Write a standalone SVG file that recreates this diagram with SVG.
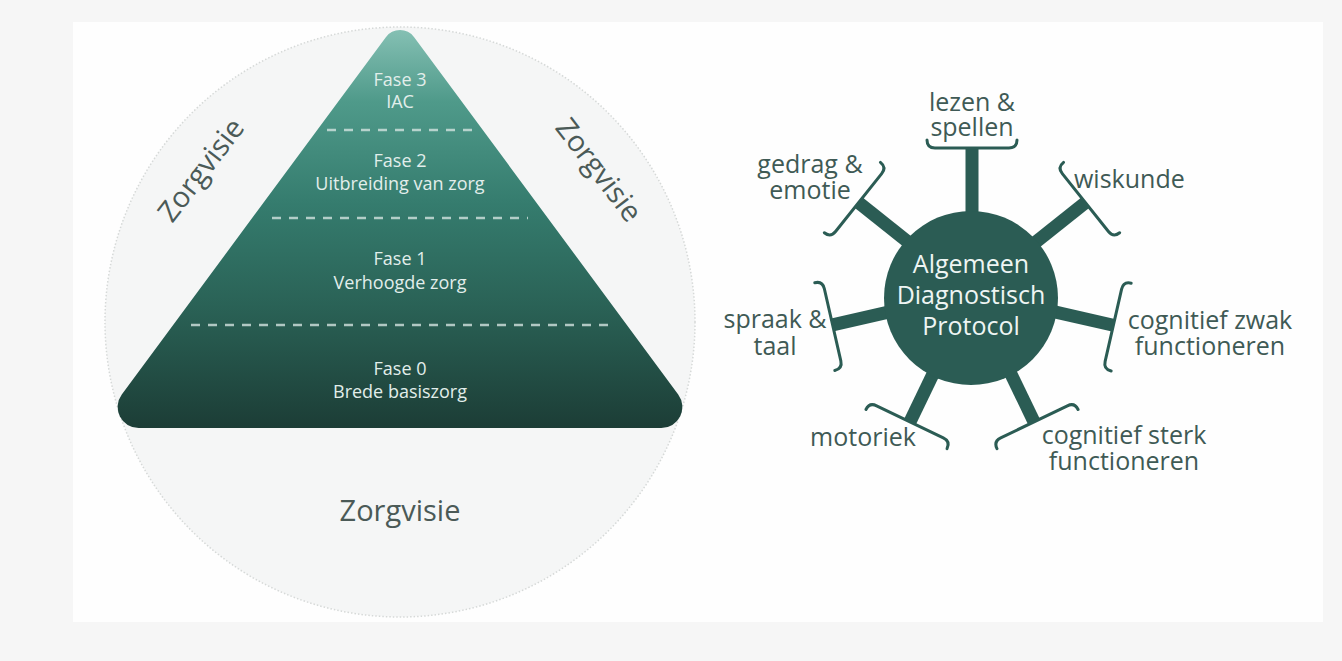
<svg xmlns="http://www.w3.org/2000/svg" width="1342" height="661" viewBox="0 0 1342 661">
  <defs>
    <linearGradient id="pyr" x1="0" y1="20" x2="0" y2="428" gradientUnits="userSpaceOnUse">
      <stop offset="0" stop-color="#8cc5b9"/>
      <stop offset="0.2" stop-color="#4f9a8a"/>
      <stop offset="0.45" stop-color="#357c6e"/>
      <stop offset="0.7" stop-color="#2a6256"/>
      <stop offset="1" stop-color="#1c3d36"/>
    </linearGradient>
  </defs>
  <style>
    .pt { font-family: "Open Sans", "Liberation Sans", sans-serif; font-size: 18px; fill: #e2eeeb; text-anchor: middle; }
    .zv { font-family: "Open Sans", "Liberation Sans", sans-serif; font-size: 29px; fill: #4b5a57; text-anchor: middle; }
    .lbl { font-family: "Open Sans", "Liberation Sans", sans-serif; font-size: 25px; fill: #3f5a55; }
    .ct { font-family: "Open Sans", "Liberation Sans", sans-serif; font-size: 25px; fill: #eef5f3; text-anchor: middle; }
    .dash { stroke: #d3e4e0; stroke-opacity: 0.8; stroke-width: 2.5; stroke-dasharray: 9 8; fill: none; }
    .spoke { stroke: #2b5c54; stroke-width: 13; fill: none; }
    .brk { stroke: #2b5c54; stroke-width: 3; fill: none; stroke-linecap: round; }
  </style>

  <rect x="0" y="0" width="1342" height="661" fill="#f6f6f6"/>
  <rect x="73" y="22" width="1250" height="600" fill="#fefefe"/>

  <g id="vision-circle">
    <circle cx="400" cy="322" r="295" fill="#f5f6f6" stroke="#d6d9d8" stroke-width="1.5" stroke-dasharray="1.5 2"/>
    <text class="zv" x="400" y="521">Zorgvisie</text>
    <text class="zv" transform="translate(201,170) rotate(-52.6)" y="10">Zorgvisie</text>
    <text class="zv" transform="translate(599,170) rotate(52.6)" y="10">Zorgvisie</text>
  </g>

  <g id="pyramid">
    <path d="M 385.84,37.13 A 17.6 17.6 0 0 1 414.16,37.13 L 678.22,394.51 A 21 21 0 0 1 661.34,428 L 138.66,428 A 21 21 0 0 1 121.78,394.51 Z" fill="url(#pyr)"/>
    <line class="dash" x1="327" y1="130" x2="473" y2="130"/>
    <line class="dash" x1="272" y1="218" x2="528" y2="218"/>
    <line class="dash" x1="191" y1="325" x2="609" y2="325"/>
  </g>
  <g id="fase3">
    <text class="pt" x="400" y="86">Fase 3</text>
    <text class="pt" x="400" y="108">IAC</text>
  </g>
  <g id="fase2">
    <text class="pt" x="400" y="167">Fase 2</text>
    <text class="pt" x="400" y="190">Uitbreiding van zorg</text>
  </g>
  <g id="fase1">
    <text class="pt" x="400" y="265">Fase 1</text>
    <text class="pt" x="400" y="289">Verhoogde zorg</text>
  </g>
  <g id="fase0">
    <text class="pt" x="400" y="375">Fase 0</text>
    <text class="pt" x="400" y="398">Brede basiszorg</text>
  </g>

  <g id="connectors">
    <g transform="translate(972,293) rotate(-90)">
      <line class="spoke" x1="60" y1="0" x2="145" y2="0"/>
      <path class="brk" d="M 153,-45 Q 145,-45 145,-37 L 145,37 Q 145,45 153,45"/>
    </g>
    <g transform="translate(972,293) rotate(-38.571)">
      <line class="spoke" x1="60" y1="0" x2="145" y2="0"/>
      <path class="brk" d="M 153,-45 Q 145,-45 145,-37 L 145,37 Q 145,45 153,45"/>
    </g>
    <g transform="translate(972,293) rotate(12.857)">
      <line class="spoke" x1="60" y1="0" x2="145" y2="0"/>
      <path class="brk" d="M 153,-45 Q 145,-45 145,-37 L 145,37 Q 145,45 153,45"/>
    </g>
    <g transform="translate(972,293) rotate(64.286)">
      <line class="spoke" x1="60" y1="0" x2="143" y2="0"/>
      <path class="brk" d="M 151,-45 Q 143,-45 143,-37 L 143,37 Q 143,45 151,45"/>
    </g>
    <g transform="translate(972,293) rotate(115.714)">
      <line class="spoke" x1="60" y1="0" x2="143" y2="0"/>
      <path class="brk" d="M 151,-45 Q 143,-45 143,-37 L 143,37 Q 143,45 151,45"/>
    </g>
    <g transform="translate(972,293) rotate(167.143)">
      <line class="spoke" x1="60" y1="0" x2="143" y2="0"/>
      <path class="brk" d="M 151,-45 Q 143,-45 143,-37 L 143,37 Q 143,45 151,45"/>
    </g>
    <g transform="translate(972,293) rotate(218.571)">
      <line class="spoke" x1="60" y1="0" x2="145" y2="0"/>
      <path class="brk" d="M 153,-45 Q 145,-45 145,-37 L 145,37 Q 145,45 153,45"/>
    </g>
  </g>

  <g id="adp">
    <circle cx="971" cy="298" r="87" fill="#2b5c54"/>
    <text class="ct" x="971" y="273">Algemeen</text>
    <text class="ct" x="971" y="304">Diagnostisch</text>
    <text class="ct" x="971" y="335">Protocol</text>
  </g>

  <g id="lezen">
    <text class="lbl" x="972" y="111" text-anchor="middle">lezen &amp;</text>
    <text class="lbl" x="972" y="136" text-anchor="middle">spellen</text>
  </g>
  <g id="wiskunde">
    <text class="lbl" x="1074" y="188">wiskunde</text>
  </g>
  <g id="cognitief-zwak">
    <text class="lbl" x="1210" y="329" text-anchor="middle">cognitief zwak</text>
    <text class="lbl" x="1210" y="355" text-anchor="middle">functioneren</text>
  </g>
  <g id="cognitief-sterk">
    <text class="lbl" x="1124" y="444" text-anchor="middle">cognitief sterk</text>
    <text class="lbl" x="1124" y="470" text-anchor="middle">functioneren</text>
  </g>
  <g id="motoriek">
    <text class="lbl" x="863" y="446" text-anchor="middle">motoriek</text>
  </g>
  <g id="spraak">
    <text class="lbl" x="775" y="328" text-anchor="middle">spraak &amp;</text>
    <text class="lbl" x="775" y="355" text-anchor="middle">taal</text>
  </g>
  <g id="gedrag">
    <text class="lbl" x="810" y="173" text-anchor="middle">gedrag &amp;</text>
    <text class="lbl" x="810" y="199" text-anchor="middle">emotie</text>
  </g>
</svg>
